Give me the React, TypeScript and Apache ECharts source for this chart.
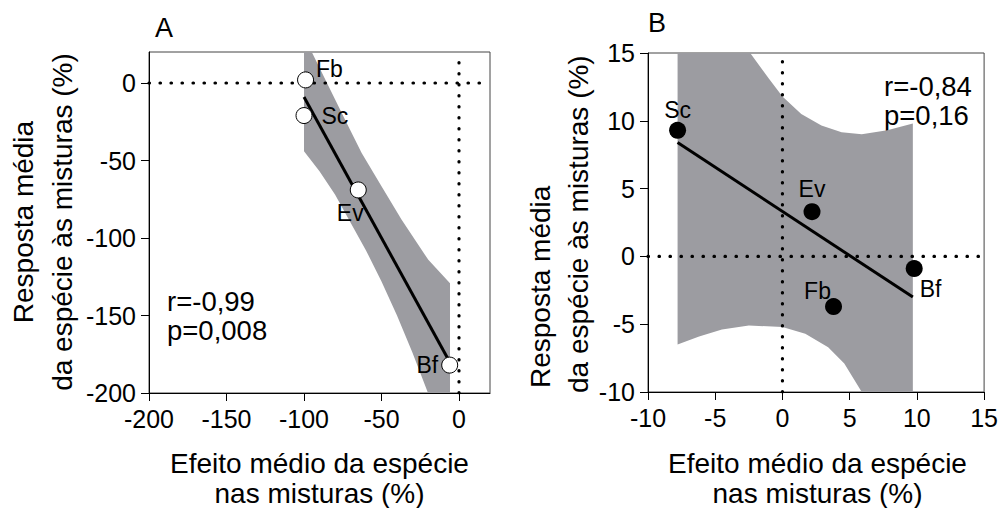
import React, { useEffect, useRef } from 'react';
import * as echarts from 'echarts';

// ---------- Data ----------
// Panel A
const speciesA = ['Fb', 'Sc', 'Ev', 'Bf'];
const effectA = [-99, -100, -65, -6];
const responseA = [2, -21, -69, -182];
const fitA = [[-100, -9], [-6, -180]];
const bandUpperA = [[-100, 20], [-95, 20], [-73.5, -23.7], [-62.8, -45.2], [-49.9, -66.8], [-37, -88.3], [-19.8, -114.1], [-5.8, -129.2]];
const bandLowerA = [[-100, -44], [-90, -57], [-80, -72], [-70, -90], [-60, -108], [-50, -128], [-40, -150], [-30, -174], [-20, -200], [-5.8, -200]];
const ticksA = [-200, -150, -100, -50, 0];
const statsA = ['r=-0,99', 'p=0,008'];

// Panel B
const speciesB = ['Sc', 'Ev', 'Fb', 'Bf'];
const effectB = [-7.8, 2.2, 3.8, 9.8];
const responseB = [9.3, 3.3, -3.7, -0.9];
const fitB = [[-7.8, 8.4], [9.7, -3.0]];
const bandUpperB = [[-7.8, 15], [-2.4, 15], [-1.0, 13.1], [0, 11.8], [1.4, 10.5], [2.9, 9.65], [4.4, 9.15], [5.9, 9.0], [7.8, 9.3], [9.7, 9.8]];
const bandLowerB = [[-7.8, -6.5], [-6.2, -5.9], [-4.5, -5.4], [-2.5, -5.1], [0, -5.2], [1.7, -5.7], [3.4, -6.7], [4.6, -7.9], [5.9, -10], [9.7, -10]];
const ticksB = [-10, -5, 0, 5, 10, 15];
const statsB = ['r=-0,84', 'p=0,16'];

const xTitle = ['Efeito médio da espécie', 'nas misturas (%)'];
const yTitle = ['Resposta média', 'da espécie às misturas (%)'];

// ---------- Styles ----------
const FONT = '"Liberation Sans", Arial, Helvetica, sans-serif';
const BAND = '#9c9ca1';
const labelCfgA: Record<string, any> = {
  Fb: { position: 'right', distance: 2, offset: [0, -11] },
  Sc: { position: 'right', distance: 9 },
  Ev: { position: 'bottom', distance: 3, offset: [-8, 0] },
  Bf: { position: 'left', distance: 3 },
};
const labelCfgB: Record<string, any> = {
  Sc: { position: 'top', distance: 0 },
  Ev: { position: 'top', distance: 3 },
  Fb: { position: 'top', distance: -4, offset: [-16, 0] },
  Bf: { position: 'right', distance: -3, offset: [0, 20] },
};

function makeAxis(gridIndex: number, min: number, max: number, ticks: number[]) {
  return {
    type: 'value',
    gridIndex,
    min,
    max,
    axisLine: { show: true, onZero: false, lineStyle: { color: '#000', width: 1 } },
    axisTick: { show: true, inside: false, length: 8, customValues: ticks, lineStyle: { color: '#000', width: 1 } },
    axisLabel: { show: true, customValues: ticks, fontSize: 25, color: '#000', fontFamily: FONT, margin: 13 },
    splitLine: { show: false },
  };
}

function polygonSeries(axisIndex: number, upper: number[][], lower: number[][]) {
  const poly = upper.concat(lower.slice().reverse());
  return {
    type: 'custom',
    xAxisIndex: axisIndex,
    yAxisIndex: axisIndex,
    silent: true,
    z: 1,
    data: [poly[0]],
    renderItem: (_p: any, api: any) => ({
      type: 'polygon',
      shape: { points: poly.map((pt) => api.coord(pt)) },
      style: { fill: BAND, stroke: null },
    }),
  };
}

function dotted(axisIndex: number, data: number[][]) {
  return {
    type: 'line',
    xAxisIndex: axisIndex,
    yAxisIndex: axisIndex,
    data,
    showSymbol: false,
    silent: true,
    z: 2,
    lineStyle: { color: '#000', width: 3.2, type: [0.5, 10.5], cap: 'round' },
  };
}

function fitLine(axisIndex: number, data: number[][]) {
  return {
    type: 'line',
    xAxisIndex: axisIndex,
    yAxisIndex: axisIndex,
    data,
    showSymbol: false,
    silent: true,
    z: 3,
    lineStyle: { color: '#000', width: 3 },
  };
}

function scatter(axisIndex: number, names: string[], xs: number[], ys: number[], cfg: Record<string, any>, filled: boolean) {
  return {
    type: 'scatter',
    xAxisIndex: axisIndex,
    yAxisIndex: axisIndex,
    z: 4,
    symbol: 'circle',
    symbolSize: filled ? 17 : 16,
    itemStyle: filled
      ? { color: '#000', borderColor: '#000', borderWidth: 0, opacity: 1 }
      : { color: '#fff', borderColor: '#000', borderWidth: 1, opacity: 1 },
    data: names.map((n, i) => ({
      name: n,
      value: [xs[i], ys[i]],
      label: { show: true, formatter: n, color: '#000', fontSize: 23, fontFamily: FONT, ...cfg[n] },
    })),
  };
}

function txt(x: number, y: number, text: string, size: number, align = 'left', rotation = 0) {
  return {
    type: 'text',
    x,
    y,
    rotation,
    silent: true,
    style: { text, fill: '#000', font: `${size}px ${FONT}`, textAlign: align, textVerticalAlign: 'middle' },
  };
}

export default function App() {
  const ref = useRef<HTMLDivElement>(null);
  useEffect(() => {
    if (!ref.current) return;
    const chart = echarts.init(ref.current, null, { renderer: 'svg' });
    const gA = { left: 149, top: 52, width: 341, height: 341 };
    const gB = { left: 648, top: 53, width: 339, height: 339 };
    chart.setOption({
      animation: false,
      backgroundColor: '#fff',
      grid: [
        { ...gA, show: true, borderColor: '#444', borderWidth: 1, containLabel: false },
        { ...gB, show: true, borderColor: '#444', borderWidth: 1, containLabel: false },
      ],
      xAxis: [makeAxis(0, -200, 20, ticksA), makeAxis(1, -10, 15, ticksB)],
      yAxis: [makeAxis(0, -200, 20, ticksA), makeAxis(1, -10, 15, ticksB)],
      series: [
        polygonSeries(0, bandUpperA, bandLowerA),
        dotted(0, [[-200, 0], [20, 0]]),
        dotted(0, [[0, -200], [0, 20]]),
        fitLine(0, fitA),
        scatter(0, speciesA, effectA, responseA, labelCfgA, false),
        polygonSeries(1, bandUpperB, bandLowerB),
        dotted(1, [[-10, 0], [15, 0]]),
        dotted(1, [[0, -10], [0, 15]]),
        fitLine(1, fitB),
        scatter(1, speciesB, effectB, responseB, labelCfgB, true),
      ],
      graphic: [
        txt(155, 28, 'A', 27),
        txt(648, 23, 'B', 27),
        txt(167, 301, statsA[0], 27.5),
        txt(167, 330, statsA[1], 27.5),
        txt(884, 86, statsB[0], 27.5),
        txt(884, 115, statsB[1], 27.5),
        txt(gA.left + gA.width / 2, 463, xTitle[0], 28, 'center'),
        txt(gA.left + gA.width / 2, 493, xTitle[1], 28, 'center'),
        txt(gB.left + gB.width / 2, 463, xTitle[0], 28, 'center'),
        txt(gB.left + gB.width / 2, 493, xTitle[1], 28, 'center'),
        txt(23, 222, yTitle[0], 28, 'center', Math.PI / 2),
        txt(62, 222, yTitle[1], 28, 'center', Math.PI / 2),
        txt(540, 388, yTitle[0], 28, 'left', Math.PI / 2),
        txt(578, 393, yTitle[1], 28, 'left', Math.PI / 2),
      ],
    });
    return () => chart.dispose();
  }, []);
  return <div ref={ref} style={{ position: 'fixed', left: 0, top: 0, width: 1001, height: 508 }} />;
}
